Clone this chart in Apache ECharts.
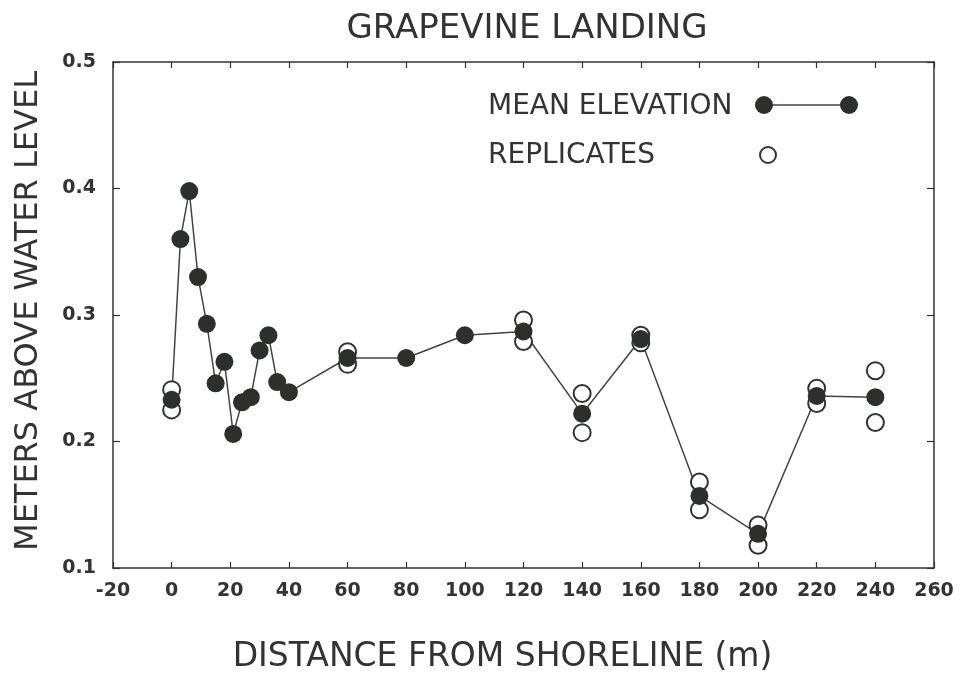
<!DOCTYPE html>
<html>
<head>
<meta charset="utf-8">
<script src="https://cdn.jsdelivr.net/npm/echarts@6/dist/echarts.min.js"></script>
<style>
  html, body { margin: 0; padding: 0; background: #ffffff; }
  #chart { width: 963px; height: 679px; }
</style>
</head>
<body>
<div id="chart"></div>
<script>
// Mean surface elevation along the transect (m from shoreline)
const distance = [0, 3, 6, 9, 12, 15, 18, 21, 24, 27, 30, 33, 36, 40, 60, 80, 100, 120, 140, 160, 180, 200, 220, 240];
const meanElevation = [0.233, 0.360, 0.398, 0.330, 0.293, 0.246, 0.263, 0.206, 0.231, 0.235, 0.272, 0.284, 0.247, 0.239, 0.266, 0.266, 0.284, 0.287, 0.222, 0.281, 0.157, 0.127, 0.236, 0.235];

// Individual replicate readings
const replicateDistance = [0, 0, 60, 60, 120, 120, 140, 140, 160, 160, 180, 180, 200, 200, 220, 220, 240, 240];
const replicateElevation = [0.241, 0.225, 0.271, 0.261, 0.296, 0.279, 0.238, 0.207, 0.284, 0.278, 0.168, 0.146, 0.134, 0.118, 0.242, 0.230, 0.256, 0.215];

const xTicks = { min: -20, max: 260, step: 20 };
const yTicks = { min: 0.1, max: 0.5, step: 0.1 };

const ink = '#333333';
const dot = '#2c302d';
const font = 'DejaVu Sans';

const meanPairs = distance.map((d, i) => [d, meanElevation[i]]);
const repPairs = replicateDistance.map((d, i) => [d, replicateElevation[i]]);

const tickLabel = { color: ink, fontFamily: font, fontWeight: 'bold', fontSize: 19 };

const baseX = {
  type: 'value', min: xTicks.min, max: xTicks.max, interval: xTicks.step,
  axisLine: { show: true, onZero: false, lineStyle: { color: ink, width: 1.5 } },
  axisTick: { show: true, inside: true, length: 6, lineStyle: { color: ink, width: 1.2 } },
  splitLine: { show: false }
};
const baseY = {
  type: 'value', min: yTicks.min, max: yTicks.max, interval: yTicks.step,
  axisLine: { show: true, onZero: false, lineStyle: { color: ink, width: 1.5 } },
  axisTick: { show: true, inside: true, length: 7, lineStyle: { color: ink, width: 1.2 } },
  splitLine: { show: false }
};

const chart = echarts.init(document.getElementById('chart'), null, { renderer: 'canvas' });
chart.setOption({
  backgroundColor: '#ffffff',
  animation: false,
  title: {
    text: 'GRAPEVINE LANDING',
    left: 522, top: 7, textAlign: 'center',
    textStyle: { color: ink, fontFamily: font, fontWeight: 'normal', fontSize: 34 }
  },
  grid: { left: 113, right: 29, top: 62, bottom: 111, containLabel: false },
  xAxis: [
    Object.assign({}, baseX, {
      position: 'bottom',
      name: 'DISTANCE FROM SHORELINE (m)', nameLocation: 'middle', nameGap: 73,
      nameTextStyle: { color: ink, fontFamily: font, fontSize: 33, padding: [0, 42, 0, 0] },
      axisLabel: Object.assign({ margin: 14 }, tickLabel)
    }),
    Object.assign({}, baseX, { position: 'top', axisLabel: { show: false } })
  ],
  yAxis: [
    Object.assign({}, baseY, {
      position: 'left',
      name: 'METERS ABOVE WATER LEVEL', nameLocation: 'middle', nameGap: 68,
      nameTextStyle: { color: ink, fontFamily: font, fontSize: 32, padding: [0, 0, 0, 8] },
      axisLabel: Object.assign({ margin: 17, formatter: v => v.toFixed(1) }, tickLabel)
    }),
    Object.assign({}, baseY, { position: 'right', axisLabel: { show: false } })
  ],
  graphic: [
    { type: 'text', left: 488, top: 93, style: { text: 'MEAN ELEVATION', fill: ink, font: '28px "DejaVu Sans"' } },
    { type: 'text', left: 488, top: 142, style: { text: 'REPLICATES', fill: ink, font: '28px "DejaVu Sans"' } },
    { type: 'line', shape: { x1: 764, y1: 105, x2: 849, y2: 105 }, style: { stroke: '#444', lineWidth: 1.5 } },
    { type: 'circle', shape: { cx: 764, cy: 105, r: 9 }, style: { fill: dot } },
    { type: 'circle', shape: { cx: 849, cy: 105, r: 9 }, style: { fill: dot } },
    { type: 'circle', shape: { cx: 768, cy: 155, r: 8 }, style: { fill: '#fff', stroke: ink, lineWidth: 2 } }
  ],
  series: [
    {
      name: 'MEAN ELEVATION', type: 'line', data: meanPairs, z: 2,
      showSymbol: false, symbol: 'none',
      lineStyle: { color: '#444', width: 1.5 }
    },
    {
      name: 'REPLICATES', type: 'scatter', data: repPairs, z: 3,
      symbol: 'circle', symbolSize: 17,
      itemStyle: { color: '#ffffff', borderColor: ink, borderWidth: 2, opacity: 1 }
    },
    {
      name: 'MEAN ELEVATION', type: 'scatter', data: meanPairs, z: 4,
      symbol: 'circle', symbolSize: 18,
      itemStyle: { color: dot, opacity: 1 }
    }
  ]
});
</script>
</body>
</html>
